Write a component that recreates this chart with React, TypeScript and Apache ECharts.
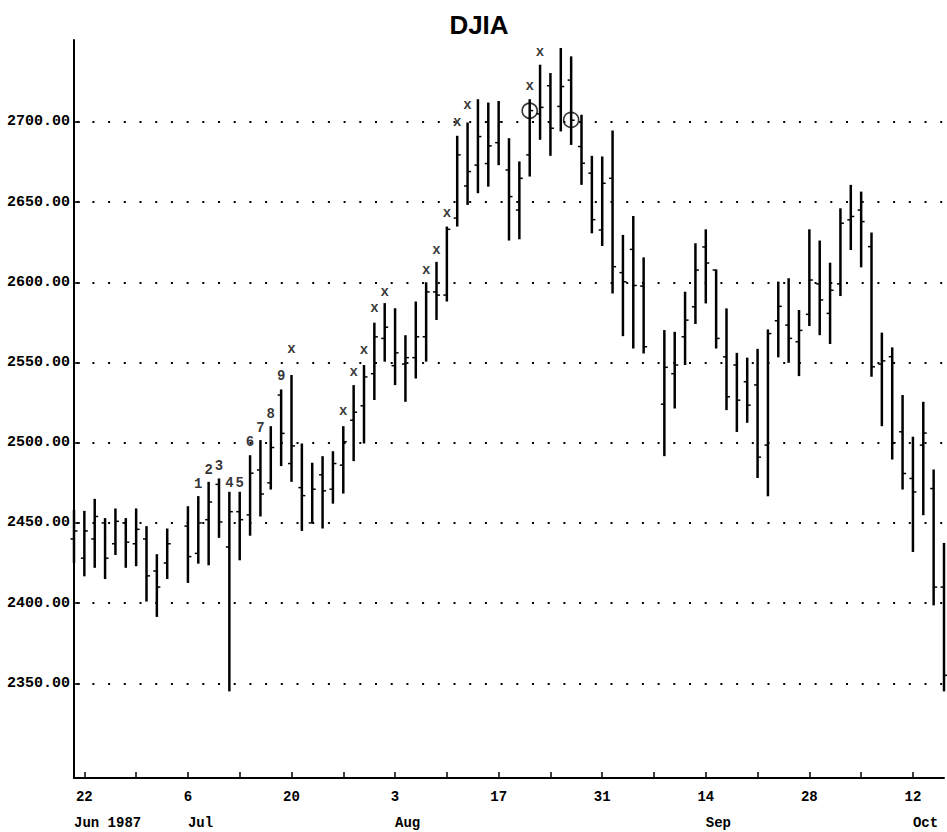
import React, { useEffect, useRef } from "react";
import * as echarts from "echarts";

// Trading-day categories (weekdays; holidays kept as empty slots)
const DATES = [
  "1987-06-19",
  "1987-06-22", "1987-06-23", "1987-06-24", "1987-06-25", "1987-06-26",
  "1987-06-29", "1987-06-30", "1987-07-01", "1987-07-02", "1987-07-03",
  "1987-07-06", "1987-07-07", "1987-07-08", "1987-07-09", "1987-07-10",
  "1987-07-13", "1987-07-14", "1987-07-15", "1987-07-16", "1987-07-17",
  "1987-07-20", "1987-07-21", "1987-07-22", "1987-07-23", "1987-07-24",
  "1987-07-27", "1987-07-28", "1987-07-29", "1987-07-30", "1987-07-31",
  "1987-08-03", "1987-08-04", "1987-08-05", "1987-08-06", "1987-08-07",
  "1987-08-10", "1987-08-11", "1987-08-12", "1987-08-13", "1987-08-14",
  "1987-08-17", "1987-08-18", "1987-08-19", "1987-08-20", "1987-08-21",
  "1987-08-24", "1987-08-25", "1987-08-26", "1987-08-27", "1987-08-28",
  "1987-08-31", "1987-09-01", "1987-09-02", "1987-09-03", "1987-09-04",
  "1987-09-07", "1987-09-08", "1987-09-09", "1987-09-10", "1987-09-11",
  "1987-09-14", "1987-09-15", "1987-09-16", "1987-09-17", "1987-09-18",
  "1987-09-21", "1987-09-22", "1987-09-23", "1987-09-24", "1987-09-25",
  "1987-09-28", "1987-09-29", "1987-09-30", "1987-10-01", "1987-10-02",
  "1987-10-05", "1987-10-06", "1987-10-07", "1987-10-08", "1987-10-09",
  "1987-10-12", "1987-10-13", "1987-10-14", "1987-10-15",
];

const OPEN = [
  2440,
  2428, 2440, 2450, 2437, 2450,
  2437, 2440, 2420, 2425, null,
  2448, 2431, 2452, 2474, 2435,
  2457, 2455, 2483, 2475, 2529.7,
  2487, 2472, 2450, 2480, 2471,
  2486, 2514, 2523, 2543, 2565,
  2548, 2549, 2553, 2566, 2594,
  2592, 2640, 2660, 2673, 2674,
  2687, 2670, 2645, 2679.4, 2705,
  2722.5, 2709.6, 2726, 2684.6, 2668,
  2632.6, 2664.8, 2606, 2620.5, 2597.6,
  null, 2524, 2543, 2566, 2584.7,
  2622, 2607.6, 2553.5, 2548.4, 2538,
  2536, 2498.5, 2576, 2573.3, 2562.9,
  2580, 2599, 2580.6, 2599, 2638.9,
  2645, 2622.2, 2549, 2553.6, 2506.8,
  2477.7, 2498.5, 2471.4, 2410,
];

const HIGH = [
  2458,
  2457.5, 2465, 2453, 2459, 2453,
  2459, 2448, 2430.5, 2446.5, null,
  2460.4, 2466.7, 2475.6, 2477.7, 2469.4,
  2469.4, 2492.2, 2501.6, 2510.3, 2533.2,
  2542.2, 2499.5, 2487.5, 2491.6, 2494.7,
  2510.3, 2535.9, 2548.4, 2574.8, 2587,
  2583.8, 2567, 2588, 2600, 2612.7,
  2634.7, 2691.3, 2699.6, 2714.1, 2712,
  2713, 2689.8, 2675.3, 2714.1, 2735.6,
  2730.4, 2746, 2740.8, 2704.4, 2678.8,
  2678.4, 2694.6, 2629.5, 2641.3, 2615.5,
  null, 2570.2, 2569.1, 2594.1, 2624.3,
  2633, 2608, 2583.7, 2556, 2553,
  2558.5, 2570.6, 2600.4, 2602.5, 2582.7,
  2633, 2626, 2612.2, 2646.1, 2660.7,
  2656.5, 2631, 2568.6, 2559.4, 2529.7,
  2503.7, 2525.5, 2483.3, 2437.5,
];

const LOW = [
  2425,
  2416.7, 2422, 2415, 2430, 2422,
  2423, 2401, 2391.4, 2415, null,
  2412.6, 2424.6, 2423.6, 2440.7, 2345,
  2426.7, 2442, 2454, 2470.8, 2485.4,
  2475.6, 2445, 2450, 2446.5, 2462,
  2468.3, 2488.5, 2499.5, 2526.6, 2550.5,
  2535.9, 2525.5, 2540, 2550.5, 2576.5,
  2588, 2634.7, 2648.2, 2655.5, 2659.6,
  2673, 2626, 2626.8, 2665.9, 2688.8,
  2678.8, 2694, 2685.6, 2660.7, 2630.5,
  2622.6, 2593, 2566.4, 2558.7, 2555.6,
  null, 2491.6, 2521.3, 2548.4, 2574,
  2586.8, 2558.7, 2520.3, 2506.7, 2512.4,
  2478, 2466.6, 2553.2, 2549.8, 2541.5,
  2572.7, 2567, 2561.5, 2591.4, 2620.1,
  2609.3, 2541.1, 2510.3, 2489.5, 2470.8,
  2431.9, 2454.8, 2398.6, 2345,
];

const CLOSE = [
  2445,
  2445, 2454, 2428, 2451, 2438,
  2446, 2417, 2410, 2437, null,
  2429, 2450, 2463, 2450.6, 2457,
  2452, 2481, 2468, 2497, 2505.8,
  2498, 2467, 2471, 2470, 2487,
  2500.6, 2519, 2541, 2566, 2572,
  2556, 2553, 2566, 2594, 2592,
  2633, 2679.4, 2669, 2690.8, 2685,
  2700, 2653.4, 2664.8, 2707, 2709,
  2696, 2722, 2701, 2674.2, 2639,
  2661.7, 2609.7, 2600.3, 2598, 2559.8,
  null, 2547, 2548.4, 2576.4, 2607.6,
  2612, 2565, 2528.6, 2526.5, 2523.4,
  2491, 2568, 2585, 2565, 2570,
  2601.4, 2589, 2595, 2636.8, 2641,
  2637.8, 2547.3, 2551, 2500, 2480.8,
  2469.3, 2506, 2410, 2355,
];

const Y_TICKS = [2350, 2400, 2450, 2500, 2550, 2600, 2650, 2700];

const WEEK_TICKS = [
  "1987-06-22", "1987-06-29", "1987-07-06", "1987-07-13", "1987-07-20",
  "1987-07-27", "1987-08-03", "1987-08-10", "1987-08-17", "1987-08-24",
  "1987-08-31", "1987-09-07", "1987-09-14", "1987-09-21", "1987-09-28",
  "1987-10-05", "1987-10-12",
];

const DAY_LABELS = [
  "1987-06-22", "1987-07-06", "1987-07-20", "1987-08-03", "1987-08-17",
  "1987-08-31", "1987-09-14", "1987-09-28", "1987-10-12",
];
const DAY_TEXT = ["22", "6", "20", "3", "17", "31", "14", "28", "12"];

const MONTH_DATES = ["1987-06-19", "1987-07-06", "1987-08-03", "1987-09-14", "1987-10-12"];
const MONTH_TEXT = ["Jun 1987", "Jul", "Aug", "Sep", "Oct"];

const MARK_DATES = [
  "1987-07-07", "1987-07-08", "1987-07-09", "1987-07-10", "1987-07-13",
  "1987-07-14", "1987-07-15", "1987-07-16", "1987-07-17", "1987-07-20",
  "1987-07-27", "1987-07-28", "1987-07-29", "1987-07-30", "1987-07-31",
  "1987-08-06", "1987-08-07", "1987-08-10", "1987-08-11", "1987-08-12",
  "1987-08-20", "1987-08-21",
];
const MARK_TEXT = [
  "1", "2", "3", "4", "5", "6", "7", "8", "9", "x",
  "x", "x", "x", "x", "x", "x", "x", "x", "x", "x", "x", "x",
];
const MARK_LEVEL = [
  2474.2, 2482.9, 2485.4, 2474.8, 2474.8, 2500.4, 2509.1, 2517.8, 2541.5, 2558.5,
  2520, 2544.3, 2558, 2584.2, 2594.2, 2607.9, 2619.8, 2642.9, 2699.6, 2710.2, 2722.1, 2743.3,
];

const CIRCLE_DATES = ["1987-08-20", "1987-08-26"];
const CIRCLE_LEVEL = [2706.9, 2701.2];

const MONO = "'Liberation Mono', 'DejaVu Sans Mono', monospace";

export default function App() {
  const ref = useRef<HTMLDivElement>(null);

  useEffect(() => {
    if (!ref.current) return;
    const chart = echarts.init(ref.current, null, { renderer: "svg" });

    const ohlc: any[] = [];
    DATES.forEach((d, i) => {
      if (OPEN[i] == null) return;
      ohlc.push([i, OPEN[i], CLOSE[i], LOW[i], HIGH[i]]);
    });

    const marks = MARK_DATES.map((d, k) => [d, MARK_LEVEL[k], MARK_TEXT[k]]);
    const circles = CIRCLE_DATES.map((d, k) => [d, CIRCLE_LEVEL[k]]);

    const option: any = {
      animation: false,
      backgroundColor: "#fff",
      title: {
        text: "DJIA",
        left: 474,
        textAlign: "center",
        top: 7,
        textStyle: {
          fontFamily: "'Liberation Sans', Arial, sans-serif",
          fontWeight: 900,
          fontSize: 26,
          color: "#000",
        },
      },
      grid: { left: 74, right: 3, top: 40, bottom: 54, containLabel: false },
      xAxis: [
        {
          type: "category",
          data: DATES,
          boundaryGap: false,
          axisLine: { show: true, lineStyle: { color: "#000", width: 2 } },
          axisTick: {
            show: true,
            inside: true,
            length: 6,
            interval: (idx: number, val: string) => WEEK_TICKS.indexOf(val) >= 0,
            lineStyle: { color: "#000", width: 1.5 },
          },
          axisLabel: {
            show: true,
            interval: (idx: number, val: string) => DAY_LABELS.indexOf(val) >= 0,
            formatter: (val: string) => {
              const k = DAY_LABELS.indexOf(val);
              return k >= 0 ? DAY_TEXT[k] : "";
            },
            fontFamily: MONO,
            fontWeight: "bold",
            fontSize: 14,
            color: "#000",
            margin: 12,
          },
          splitLine: { show: false },
        },
        {
          type: "category",
          data: DATES,
          boundaryGap: false,
          position: "bottom",
          offset: 26,
          axisLine: { show: false },
          axisTick: { show: false },
          axisLabel: {
            show: true,
            interval: (idx: number, val: string) => MONTH_DATES.indexOf(val) >= 0,
            formatter: (val: string) => {
              const k = MONTH_DATES.indexOf(val);
              return k >= 0 ? MONTH_TEXT[k] : "";
            },
            align: "left",
            fontFamily: MONO,
            fontWeight: "bold",
            fontSize: 14,
            color: "#000",
            margin: 12,
          },
          splitLine: { show: false },
        },
      ],
      yAxis: {
        type: "value",
        min: 2291,
        max: 2751,
        axisLine: { show: true, lineStyle: { color: "#000", width: 2 } },
        axisTick: {
          show: true,
          inside: true,
          length: 6,
          customValues: Y_TICKS,
          lineStyle: { color: "#000", width: 1.5 },
        },
        axisLabel: {
          show: true,
          customValues: Y_TICKS,
          formatter: (v: number) => v.toFixed(2),
          fontFamily: MONO,
          fontWeight: "bold",
          fontSize: 15,
          color: "#000",
          margin: 4,
        },
        splitLine: {
          show: true,
          lineStyle: { color: "#000", width: 2, type: [2, 13.7], dashOffset: 13.1 },
        },
      },
      series: [
        {
          type: "custom",
          xAxisIndex: 0,
          data: ohlc,
          encode: { x: 0, y: [1, 2, 3, 4] },
          renderItem: (params: any, api: any) => {
            const i = api.value(0);
            const o = api.coord([i, api.value(1)]);
            const c = api.coord([i, api.value(2)]);
            const l = api.coord([i, api.value(3)]);
            const h = api.coord([i, api.value(4)]);
            const thin = { stroke: "#000", lineWidth: 1.5 };
            return {
              type: "group",
              children: [
                {
                  type: "line",
                  shape: { x1: h[0], y1: h[1], x2: l[0], y2: l[1] },
                  style: { stroke: "#000", lineWidth: 2.5 },
                },
                {
                  type: "line",
                  shape: { x1: o[0] - 3.5, y1: o[1], x2: o[0], y2: o[1] },
                  style: thin,
                },
                {
                  type: "line",
                  shape: { x1: c[0], y1: c[1], x2: c[0] + 3.5, y2: c[1] },
                  style: thin,
                },
              ],
            };
          },
        },
        {
          type: "scatter",
          xAxisIndex: 0,
          data: marks,
          symbol: "circle",
          symbolSize: 0,
          itemStyle: { color: "transparent" },
          label: {
            show: true,
            position: "inside",
            formatter: (p: any) => p.value[2],
            fontFamily: MONO,
            fontWeight: "bold",
            fontSize: 14,
            color: "#000",
          },
        },
        {
          type: "scatter",
          xAxisIndex: 0,
          data: circles,
          symbol: "circle",
          symbolSize: 15,
          itemStyle: { color: "none", borderColor: "#000", borderWidth: 1.6 },
        },
      ],
    };

    chart.setOption(option);
    return () => chart.dispose();
  }, []);

  return (
    <div
      ref={ref}
      style={{ position: "absolute", left: 0, top: 0, width: 947, height: 832, background: "#fff" }}
    />
  );
}
